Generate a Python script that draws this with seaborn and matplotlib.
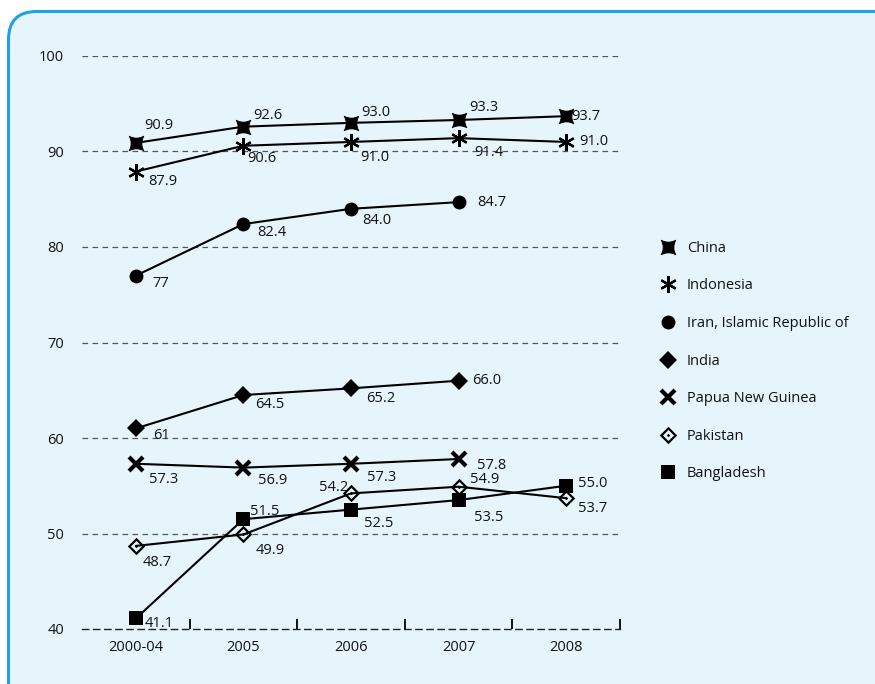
import numpy as np
import pandas as pd
import matplotlib
matplotlib.use("Agg")
import matplotlib.pyplot as plt
import seaborn as sns
from matplotlib.path import Path
from matplotlib.patches import FancyBboxPatch
from matplotlib.lines import Line2D

# ---------------- data ----------------
periods = ["2000-04", "2005", "2006", "2007", "2008"]
countries = ["China", "Indonesia", "Iran, Islamic Republic of", "India",
             "Papua New Guinea", "Pakistan", "Bangladesh"]

china = [90.9, 92.6, 93.0, 93.3, 93.7]
indonesia = [87.9, 90.6, 91.0, 91.4, 91.0]
iran = [77.0, 82.4, 84.0, 84.7]
india = [61.0, 64.5, 65.2, 66.0]
png = [57.3, 56.9, 57.3, 57.8]
pakistan = [48.7, 49.9, 54.2, 54.9, 53.7]
bangladesh = [41.1, 51.5, 52.5, 53.5, 55.0]

china_lbl = ["90.9", "92.6", "93.0", "93.3", "93.7"]
indonesia_lbl = ["87.9", "90.6", "91.0", "91.4", "91.0"]
iran_lbl = ["77", "82.4", "84.0", "84.7"]
india_lbl = ["61", "64.5", "65.2", "66.0"]
png_lbl = ["57.3", "56.9", "57.3", "57.8"]
pakistan_lbl = ["48.7", "49.9", "54.2", "54.9", "53.7"]
bangladesh_lbl = ["41.1", "51.5", "52.5", "53.5", "55.0"]

yticks = [40, 50, 60, 70, 80, 90, 100]

series = [china, indonesia, iran, india, png, pakistan, bangladesh]
labels = [china_lbl, indonesia_lbl, iran_lbl, india_lbl, png_lbl, pakistan_lbl, bangladesh_lbl]

rows = []
for c, vals in zip(countries, series):
    for i, v in enumerate(vals):
        rows.append({"country": c, "pos": i, "value": v})
df = pd.DataFrame(rows)

# ---------------- styling ----------------
sns.set_theme(style="white")
plt.rcParams["font.family"] = ["Open Sans", "DejaVu Sans"]

# custom markers
def china_marker(k=0.45):
    v = [(-1, -1), (0, -k), (1, -1), (k, 0), (1, 1), (0, k), (-1, 1), (-k, 0), (-1, -1), (-1, -1)]
    c = [Path.MOVETO, Path.CURVE3, Path.CURVE3, Path.CURVE3, Path.CURVE3,
         Path.CURVE3, Path.CURVE3, Path.CURVE3, Path.CURVE3, Path.CLOSEPOLY]
    return Path(v, c)

def pak_marker(inner=0.64, dot=0.2):
    outer = [(0, 1), (1, 0), (0, -1), (-1, 0), (0, 1)]
    hole = [(0, inner), (-inner, 0), (0, -inner), (inner, 0), (0, inner)]
    d = [(0, dot), (dot, 0), (0, -dot), (-dot, 0), (0, dot)]
    verts = outer + hole + d
    codes = ([Path.MOVETO] + [Path.LINETO] * 3 + [Path.CLOSEPOLY]) * 3
    return Path(verts, codes)

PX = 0.72  # px -> pt at 100 dpi
FS = 10.5
TXT = "#111111"

styles = {
    "China": dict(marker=china_marker(), markersize=10.5, markeredgewidth=0.6),
    "Indonesia": dict(marker=(6, 2, 0), markersize=12, markeredgewidth=1.6),
    "Iran, Islamic Republic of": dict(marker="o", markersize=10, markeredgewidth=0),
    "India": dict(marker="D", markersize=9.5, markeredgewidth=0),
    "Papua New Guinea": dict(marker="x", markersize=10, markeredgewidth=3),
    "Pakistan": dict(marker=pak_marker(), markersize=12.5, markeredgewidth=0),
    "Bangladesh": dict(marker="s", markersize=10.5, markeredgewidth=0),
}

# label offsets (px) and alignment
offsets = {
    "China": [(8, -17), (10, -11), (10, -10), (11, -12), (5, 0)],
    "Indonesia": [(12, 10), (4, 13), (9, 16), (16, 14), (13, 0)],
    "Iran, Islamic Republic of": [(17, 8), (14, 8), (11, 12), (19, 0)],
    "India": [(17, 7), (12, 9), (15, 10), (14, 0)],
    "Papua New Guinea": [(13, 16), (15, 13), (16, 14), (18, 6)],
    "Pakistan": [(7, 17), (12, 16), (-3, -6), (11, -7), (12, 10)],
    "Bangladesh": [(9, 5), (7, -8), (13, 14), (15, 17), (12, -2)],
}

fig = plt.figure(figsize=(8.75, 6.84), dpi=100)
fig.patch.set_facecolor("white")

bg = FancyBboxPatch((0.085, -0.6), 9.5, 6.74 + 0.6 - 0.015,
                    boxstyle="round,pad=0,rounding_size=0.28",
                    transform=fig.dpi_scale_trans,
                    facecolor="#E6F4FC", edgecolor="#1FA2E2", linewidth=2.2,
                    zorder=-10)
fig.patches.append(bg)

ax = fig.add_axes([82 / 875, 1 - 629 / 684, (620 - 82) / 875, (629 - 56) / 684])
ax.set_facecolor("none")
ax.set_zorder(5)

for c in countries:
    sub = df[df["country"] == c]
    st = styles[c]
    sns.lineplot(data=sub, x="pos", y="value", ax=ax, color="black",
                 linewidth=1.5, markerfacecolor="black", markeredgecolor="black",
                 errorbar=None, legend=False, zorder=3, **st)
    for (i, v), lbl, (dx, dy) in zip(enumerate(sub["value"]), labels[countries.index(c)], offsets[c]):
        ax.annotate(lbl, (i, v), xytext=(dx * PX, -dy * PX), textcoords="offset points",
                    ha="right" if dx < 0 else "left", va="center", fontsize=FS,
                    color=TXT, zorder=4)

ax.set_xlim(-0.5, 4.5)
ax.set_ylim(40, 100)
ax.set_yticks(yticks)
ax.set_yticklabels([str(t) for t in yticks])
ax.set_xticks(range(len(periods)))
ax.set_xticklabels(periods)
ax.set_xticks(np.arange(0.5, 4.6, 1.0), minor=True)
ax.tick_params(axis="x", which="major", bottom=False, length=0, pad=8, labelsize=FS, colors=TXT)
ax.tick_params(axis="x", which="minor", bottom=True, direction="in", length=7, width=1.3,
               color="black")
ax.tick_params(axis="y", left=False, length=0, pad=13, labelsize=FS, colors=TXT)
ax.set_xlabel("")
ax.set_ylabel("")
ax.yaxis.grid(True, linestyle=(0, (4.5, 3.5)), color="#555555", linewidth=0.9)
ax.xaxis.grid(False)
for s in ["left", "right", "top"]:
    ax.spines[s].set_visible(False)
ax.spines["bottom"].set_linestyle((0, (4.5, 3.5)))
ax.spines["bottom"].set_color("#222222")
ax.spines["bottom"].set_linewidth(1.0)
fig.canvas.draw()
ax.yaxis.get_gridlines()[0].set_visible(False)

handles = []
for c in countries:
    st = styles[c]
    handles.append(Line2D([], [], linestyle="none", color="black",
                          markerfacecolor="black", markeredgecolor="black", **st))
leg = fig.legend(handles, countries, loc="upper left",
                 bbox_to_anchor=(655 / 875, 1 - 235 / 684), frameon=False,
                 fontsize=FS, handlelength=1.0, handletextpad=0.8,
                 labelspacing=1.55, borderaxespad=0)
for t in leg.get_texts():
    t.set_color(TXT)

fig.savefig("out.png", dpi=100, facecolor="white")
